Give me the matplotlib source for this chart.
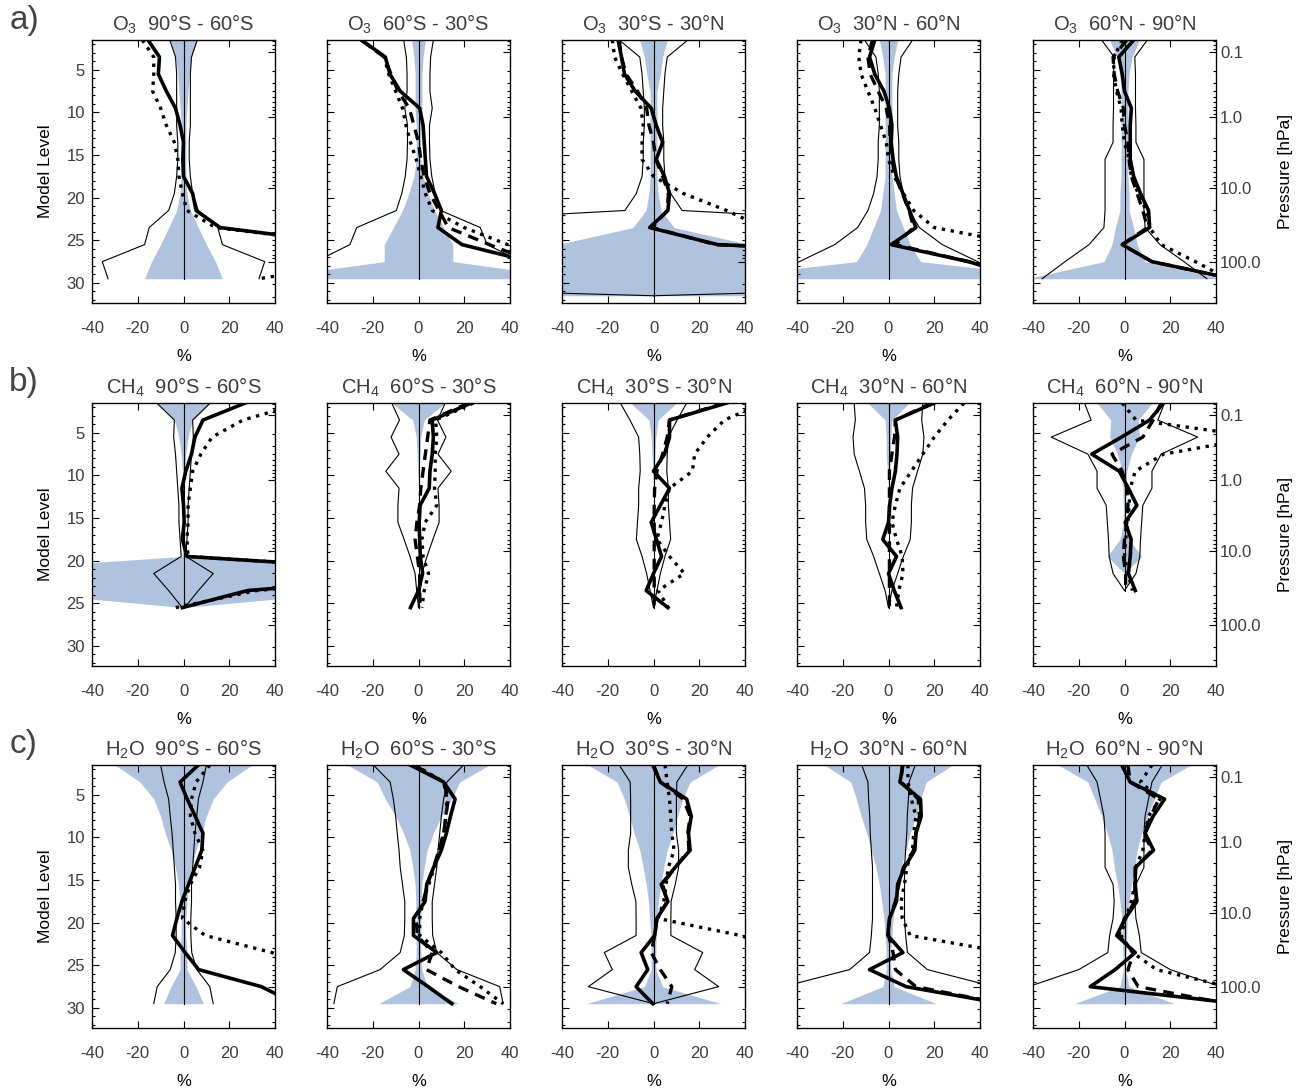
import numpy as np
import matplotlib
matplotlib.use("Agg")
import matplotlib.pyplot as plt

nan = np.nan

# model levels of the profile points (row a uses all 16, b 13, c 15)
LEVELS = np.arange(1.5, 32.0, 2.0)

ROW_LABELS = ["a)", "b)", "c)"]
SPECIES = ["O$_3$", "CH$_4$", "H$_2$O"]
BANDS = ["90°S - 60°S", "60°S - 30°S", "30°S - 30°N", "30°N - 60°N", "60°N - 90°N"]

PRESS_VALUES = [0.1, 1.0, 10.0, 100.0]
PRESS_LABELS = ["0.1", "1.0", "10.0", "100.0"]
PRESS_LEVELS = [2.85, 10.5, 18.9, 27.5]

# ---- row a: O3 ----
O3_SHADE = [
    [6, 3.5, 2.5, 2, 1.5, 1, 1, 1, 1, 1.5, 3, 6.5, 10, 14, 17, nan],
    [3, 2, 1.5, 1.5, 1.5, 1, 1, 1, 2, 4.2, 7, 11, 15, 15, 70, nan],
    [6, 4, 3, 1.5, 1.5, 1.5, 1.5, 1.5, 1.5, 2, 3.3, 9, 42, 60, 60, 60],
    [4, 2.5, 1.5, 1.5, 1.5, 1.5, 1.5, 1.5, 1.5, 2.5, 3.5, 6.5, 9.5, 14, 80, nan],
    [6.5, 3.3, 2, 1.5, 1.5, 1.5, 1.5, 1.5, 1.5, 2, 2, 4, 5.5, 9, 43, nan],
]
O3_THIN = [
    [6, 3.5, 3, 3, 3, 3, 2.5, 2.5, 3, 4, 6.5, 15, 17, 35.5, 33, nan],
    [6.5, 5.3, 5, 5, 6, 4.8, 4.8, 5, 5.8, 7.3, 9.7, 27, 30, 45, 60, nan],
    [15, 6, 5, 4.5, 4, 4, 4.5, 4.5, 5, 7.5, 12.5, 150, 200, 200, 270, 0],
    [10.5, 5.5, 4.5, 4, 4, 4, 4.5, 4.5, 5, 6.5, 9, 13.5, 23.5, 39, 50, nan],
    [10, 4.5, 4.8, 4.8, 4.8, 5, 5, 8.5, 8.5, 8.5, 8.5, 9, 15.5, 26, 36, nan],
]
O3_SOLID = [
    [-15.5, -10.5, -11, -7.5, -3.5, -1.5, 0, -0.3, 0, 4, 5.5, 16, 75, 80, 80, nan],
    [-25, -14.5, -12.5, -8, 0.5, 2, 2.5, 3, 3.5, 7, 10, 8.5, 19, 49, 60, nan],
    [-15.5, -14, -12.7, -8, -1, 1.2, 4, 1.2, 4.8, 7, 6.3, -1.7, 28, 200, 200, nan],
    [-6, -8.3, -6, -2, 0.4, 1.5, 1.2, 2, 3.4, 6.3, 9.2, 12, 1.2, 35, 60, nan],
    [4, -2.5, -1, 0, 3, 2.5, 2.5, 2.5, 4, 7, 10.5, 11, -1, 12, 47, nan],
]
O3_DASHED = [
    None,
    [-25, -15, -12, -9, -4, -2, 0, 1, 2.5, 5, 9, 13, 31, 50, 60, nan],
    [-15, -14, -12, -7, -3, -2, 0, 1, 4, 6.5, 6, -0.5, 27, 200, 200, nan],
    [-7, -9, -8, -4.5, -1, 0.5, 0.7, 1.5, 3, 6, 9, 11, 3, 35, 60, nan],
    [1, -5, -4.5, -3, -0.5, 0, 1.5, 2, 3, 5.5, 8, 10, -1, 12, 47, nan],
]
O3_DOTTED = [
    [-18, -13, -13, -13.5, -10, -7.5, -4, -2.5, -2, -0.5, 1.5, 14, 75, 80, 33, nan],
    [-25, -15, -13, -10, -7, -5.5, -3.5, -1, 1, 3, 6, 20, 39, 55, 60, nan],
    [-18, -17, -13.5, -9.5, -5.5, -4.5, -5, -5, 0, 13, 32, 48, 70, 70, 70, nan],
    [-12, -13, -12, -9, -6, -3.5, -1, 0, 2.5, 6.5, 11, 20, 59, 70, 70, nan],
    [-1, -4.5, -4.8, -3.5, -1.5, -1, 0, 2, 3, 6, 9.5, 11, 16, 31, 45, nan],
]

# ---- row b: CH4 ----
CH4_SHADE = [
    [11.7, 4, 2, 1, 0.5, 0.3, 0.2, 0.2, 0.3, 0.5, 110, 80, 0],
    [11.7, 2.5, 1, 0.6, 0.4, 0, 0, 0, 0, 0, 0, 0, 0],
    [10, 2, 1, 0.7, 0.3, 0, 0, 0, 0, 0, 0, 0, 0],
    [9, 1.5, 1, 1, 0.5, 0, 0, 0, 0, 0, 0, 0, 0],
    [12, 6, 6.5, 3, 1, 0.7, 0.5, 0.5, 2, 7.5, 0, 0, nan],
]
CH4_THIN = [
    [11.7, 4, 4.3, 3.5, 3, 2.5, 2, 2, 1.5, 1, 13, 6.5, 0.5],
    [11.7, 8.3, 12, 8.5, 14.3, 8.5, 9, 9, 6.3, 3.7, 1.5, 0.8, 0],
    [14.5, 10.3, 6.5, 6, 5.8, 6.5, 6.5, 7, 7.5, 5, 3, 1.5, 0],
    [15, 14.5, 15.5, 15, 12.7, 10.5, 10, 10, 9.5, 6.5, 4, 1.5, 0],
    [17.5, 14.6, 32, 16, 12, 12, 8, 7.5, 7, 6.7, 5, 0, nan],
]
CH4_SOLID = [
    [27, 8.5, 5, 3.5, 1, -0.7, 0, 0.3, -0.5, 1.5, 120, 28, -0.5],
    [23, 6, 6.5, 6, 5, 4.7, 0.7, 0.3, 0.5, 0.8, 1.8, 0, -3.5],
    [32, 7, 7, 4.8, 0, 7, 3, -1, 1.3, 3.5, 0, -3.2, 6.3],
    [20, 3, 4, 3.7, 3, 1.5, 0.5, 0, -2.5, 3.5, 0, 2.5, 5.5],
    [17, 11, -1.3, -14.3, -2.3, 1.7, 5.4, 0.3, 2.9, 2.5, 1.7, 4.7, nan],
]
CH4_DASHED = [
    None,
    [22, 5, 4, 3, 2, 1, 0.5, -0.7, -1.5, -0.5, 0.5, 0.5, 0.7],
    [31, 7, 6, 4, 1.5, 0.5, 0.3, 0.3, 0.3, 0.3, 0.3, 0.3, 0.3],
    [19, 3, 2.6, 1.5, 0.4, 0.4, 0.4, 0.4, 0.4, 0.4, 0.4, 0.4, 0.4],
    [16, 12.5, 8, -5.5, -1, 1, 1.5, 1, 0, -0.5, 0.5, 0.5, nan],
]
CH4_DOTTED = [
    [52, 26, 12.5, 7.6, 4, 3, 2, 2, 1.5, 2, 120, 32, -3.5],
    [24, 7.5, 8, 7.3, 7.3, 7, 8, 2.9, 1.5, 2, 4.4, 2.5, 1.5],
    [48, 31, 23.5, 18, 17, 7, 5, 3.5, 1.5, 7, 13.5, 2, 6.5],
    [33, 26, 20, 15, 10, 5, 3, 1.5, 3.5, 6, 6.3, 4.5, 3.5],
    [-1, 5, 59, 17, 4.7, 2.5, 2, 1.5, 0.5, 0, 1.5, 3.5, nan],
]

# ---- row c: H2O ----
H2O_SHADE = [
    [30, 19, 13, 10, 8, 5.4, 3.6, 2.2, 1.5, 1, 1, 1.5, 1.5, 5.5, 8.7],
    [31, 18, 14.5, 10, 6.5, 3.8, 2.5, 1.5, 1.2, 1, 1, 1, 1.5, 3.8, 17.5],
    [28.5, 16, 12.7, 10.5, 8.5, 6, 4.5, 3.2, 2.2, 1.7, 1.2, 1, 1, 4, 29.5],
    [28, 16.5, 14, 12, 9.5, 7.5, 5.5, 4, 3, 2, 1.5, 1, 1, 2.5, 21],
    [29, 16, 13, 10, 7.5, 5.5, 4.5, 3, 2, 1.2, 1, 0.7, 0.5, 2, 22],
]
H2O_THIN = [
    [10, 8.5, 6.5, 5.8, 5, 4.5, 4, 3.5, 3.5, 3.2, 3.2, 3.6, 5.8, 11.5, 13],
    [19.7, 12.4, 11, 10, 9.3, 8.5, 8, 7, 6, 6, 6.2, 8, 16.8, 35.5, 37],
    [15, 10.2, 10, 10, 10, 11, 11, 9.5, 7.7, 7.6, 7.6, 21.5, 18, 28.5, 0],
    [11.7, 9, 8.7, 8.2, 8, 7.5, 7, 7, 7, 7, 7.5, 8.3, 17, 46, 50],
    [16.5, 12, 10.5, 9, 8.5, 8.5, 8.5, 5, 4.5, 5, 6.5, 7.3, 20, 42, 50],
]
H2O_SOLID = [
    [6.5, -1.5, 1.6, 5.1, 8.5, 8, 5.1, 2.2, -0.7, -2.9, -4.8, 0.7, 6.6, 34, 49],
    [-3.6, 11, 16, 14, 12.2, 10, 6.6, 3.6, 2.9, -2.2, -2.2, 8, -6.6, 4.2, 14.6],
    [-0.3, 3, 14.5, 16.5, 15.3, 16, 9.5, 3.4, 6.3, 1.5, 0.5, -5.4, -2.5, -7.6, -0.3],
    [6.3, 5, 14, 14.3, 12, 11.5, 7, 4, 3.5, 0.4, -0.3, 6.3, -8.3, 7.7, 50],
    [-1.2, 2.5, 17.5, 12.5, 9, 12.7, 4.7, 4.7, 5.4, 0.3, -3.4, 4.7, -4.1, -15, 50],
]
H2O_DASHED = [
    None,
    [-2, 11, 13, 12, 11, 9, 6.5, 4, 2, -1, -0.5, 6, 3.5, 17.5, 34],
    [0, 3, 13, 16, 15, 15.5, 9.5, 4, 6, 1.5, 0.5, -1, 3, 8, 6],
    [6, 5.5, 13, 13.5, 12, 11, 6.5, 4.5, 3, 0.5, 0, 2, 3, 12, 50],
    [1.5, 2.5, 15, 11.5, 8.5, 12, 5, 4.5, 4.5, 0, -2.5, 4, 1.5, 6, 45],
]
H2O_DOTTED = [
    [11.5, 5.5, 3.5, 3, 5, 8.5, 7, 3, 0.5, -0.5, 9.5, 38.6, 60, 60, 60],
    [-1.5, 11, 12.5, 12, 11, 9, 7, 4.5, 2, 0.5, 0.5, 10, 16, 27, 37],
    [5, 6, 7, 7.5, 8, 9, 6.5, 5.5, 4.5, 2, 38, 60, 60, 60, 60],
    [8.5, 8.5, 10, 12, 11, 10.5, 8, 7, 5.5, 6, 9.5, 51.5, 60, 60, 60],
    [12, 7, 15.5, 10.5, 9, 8, 5, 4.5, 3, 0.5, -1.5, 3.5, 14, 45, 60],
]

ROWS = [
    (O3_SHADE, O3_THIN, O3_SOLID, O3_DASHED, O3_DOTTED),
    (CH4_SHADE, CH4_THIN, CH4_SOLID, CH4_DASHED, CH4_DOTTED),
    (H2O_SHADE, H2O_THIN, H2O_SOLID, H2O_DASHED, H2O_DOTTED),
]

BLUE = "#b0c3de"
TEXT = "#3c3c3c"
W, H = 1298, 1089
COL_LEFT = [92, 327, 562, 797, 1033]
ROW_TOP = [40, 403, 765]
AX_W, AX_H = 183, 263


def p_to_level(p):
    lp = np.log10(np.asarray(p, dtype=float))
    xs = np.log10(PRESS_VALUES)
    ys = np.asarray(PRESS_LEVELS)
    lev = np.interp(lp, xs, ys)
    lo = (ys[1] - ys[0]) / (xs[1] - xs[0])
    hi = (ys[-1] - ys[-2]) / (xs[-1] - xs[-2])
    lev = np.where(lp < xs[0], ys[0] + (lp - xs[0]) * lo, lev)
    lev = np.where(lp > xs[-1], ys[-1] + (lp - xs[-1]) * hi, lev)
    return lev


def draw_panel(ax, shade, thin, solid, dashed, dotted):
    n = len(shade)
    lev = LEVELS[:n]
    b = np.array(shade, dtype=float)
    t = np.array(thin, dtype=float)
    ax.fill_betweenx(lev, -b, b, color=BLUE, lw=0, zorder=1)
    ax.plot(-t, lev, color="k", lw=0.8, zorder=2)
    ax.plot(t, lev, color="k", lw=0.8, zorder=2)
    ok = ~np.isnan(t)
    ax.plot(np.zeros(ok.sum()), lev[ok], color="k", lw=0.8, zorder=2)
    ax.plot(dotted, lev, color="k", lw=2.4, ls=(0, (1, 1.7)), zorder=3)
    if dashed is not None:
        ax.plot(dashed, lev, color="k", lw=2.4, ls=(0, (3.2, 2.2)), zorder=4)
    ax.plot(solid, lev, color="k", lw=2.6, zorder=5)


def main():
    plt.rcParams["font.family"] = ["Liberation Sans", "DejaVu Sans"]
    plt.rcParams["mathtext.fontset"] = "custom"
    plt.rcParams["mathtext.rm"] = "Liberation Sans"
    plt.rcParams["mathtext.it"] = "Liberation Sans:italic"
    plt.rcParams["axes.unicode_minus"] = False
    plt.rcParams["text.color"] = TEXT

    fig = plt.figure(figsize=(W / 100, H / 100), dpi=100)
    ylim = (32.35, 1.5)

    minor_p = [k * 10.0 ** e for e in range(-2, 3) for k in range(2, 10)]
    minor_lev = [l for l in p_to_level(minor_p) if ylim[1] <= l <= ylim[0]]

    for r, (shades, thins, solids, dasheds, dotteds) in enumerate(ROWS):
        for c in range(5):
            rect = [COL_LEFT[c] / W, 1 - (ROW_TOP[r] + AX_H) / H, AX_W / W, AX_H / H]
            ax = fig.add_axes(rect)
            draw_panel(ax, shades[c], thins[c], solids[c], dasheds[c], dotteds[c])
            ax.set_xlim(-40, 40)
            ax.set_ylim(*ylim)
            ax.set_xticks([-40, -20, 0, 20, 40])
            ax.set_yticks([5, 10, 15, 20, 25, 30])
            ax.set_yticks(np.arange(2, 33), minor=True)
            ax.tick_params(which="both", direction="in", top=True, right=False,
                           colors="k", labelcolor=TEXT, labelsize=12, width=0.8)
            ax.tick_params(which="major", length=5)
            ax.tick_params(which="minor", length=2.5)
            ax.tick_params(axis="x", pad=13)
            ax.tick_params(axis="y", pad=5)
            ax.set_xlabel("%", fontsize=12, labelpad=9)
            if c > 0:
                ax.set_yticklabels([])
            else:
                ax.set_ylabel("Model Level", fontsize=12.5, labelpad=10)
            ax.set_title(f"{SPECIES[r]}  {BANDS[c]}", fontsize=14.5, pad=7, color=TEXT)
            for s in ax.spines.values():
                s.set_linewidth(0.9)

            ax2 = ax.twinx()
            ax2.set_ylim(*ylim)
            ax2.set_yticks(p_to_level(PRESS_VALUES))
            ax2.set_yticks(minor_lev, minor=True)
            ax2.tick_params(which="both", direction="in", colors="k",
                            labelcolor=TEXT, labelsize=12, width=0.8, pad=3)
            ax2.tick_params(which="major", length=5)
            ax2.tick_params(which="minor", length=2.5)
            if c == 4:
                ax2.set_yticklabels(PRESS_LABELS)
                ax2.set_ylabel("Pressure [hPa]", fontsize=12.5, labelpad=12)
            else:
                ax2.set_yticklabels([])

        fig.text(24 / W, 1 - (ROW_TOP[r] - 20) / H, ROW_LABELS[r], fontsize=24,
                 ha="center", va="center", color="#444444")

    fig.savefig("out.png", dpi=100)
    plt.close(fig)


if __name__ == "__main__":
    main()
